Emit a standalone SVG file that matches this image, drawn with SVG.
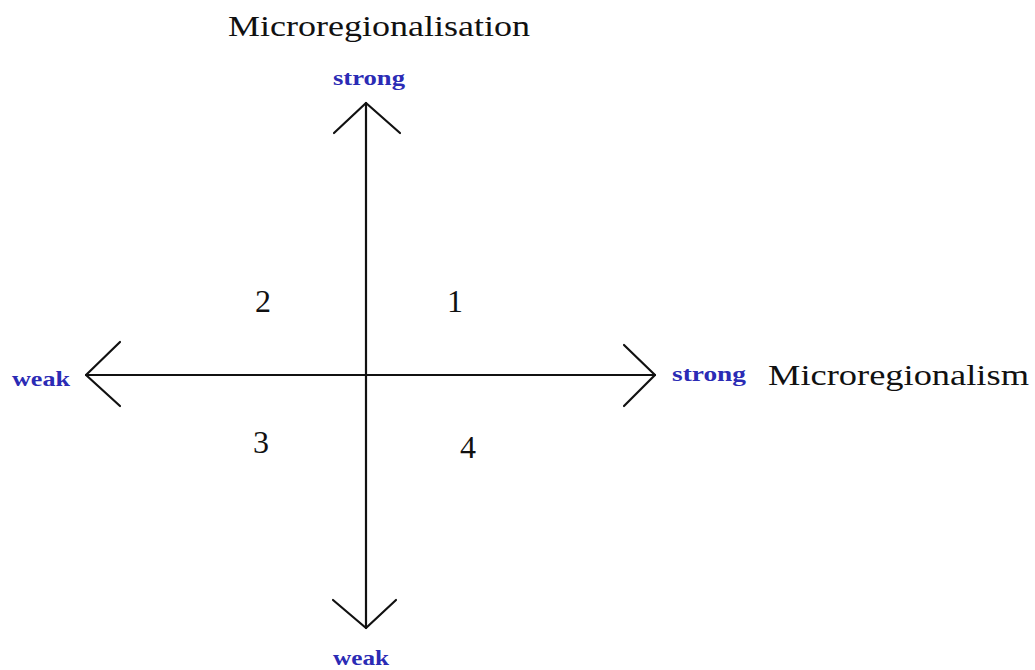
<svg xmlns="http://www.w3.org/2000/svg" width="1035" height="670" viewBox="0 0 1035 670">
<style>
.title{font-family:"Liberation Serif","DejaVu Serif",serif;font-size:30px;fill:#111}
.lab{font-family:"Liberation Serif","DejaVu Serif",serif;font-size:21px;font-weight:bold;fill:#2b2bb5}
.num{font-family:"Liberation Serif","DejaVu Serif",serif;font-size:32px;fill:#111}
.ax{stroke:#111;stroke-width:2.2;fill:none;stroke-linecap:round;stroke-linejoin:round}
</style>
<rect width="1035" height="670" fill="#fff"/>
<g id="connectors">
<path class="ax" d="M366,103 V628"/>
<path class="ax" d="M334,133 L366,103 L400,133"/>
<path class="ax" d="M333,600 L366,628 L396,600"/>
<path class="ax" d="M86,375 H655"/>
<path class="ax" d="M120,342 L86,375 L120,406"/>
<path class="ax" d="M624,345 L655,375 L624,406"/>
</g>
<g id="title-y"><text class="title" x="228" y="36" textLength="302" lengthAdjust="spacingAndGlyphs">Microregionalisation</text></g>
<g id="y-strong"><text class="lab" x="333" y="85" textLength="72" lengthAdjust="spacingAndGlyphs">strong</text></g>
<g id="y-weak"><text class="lab" x="333" y="665" textLength="56" lengthAdjust="spacingAndGlyphs">weak</text></g>
<g id="x-weak"><text class="lab" x="12" y="386" textLength="58" lengthAdjust="spacingAndGlyphs">weak</text></g>
<g id="x-strong"><text class="lab" x="672" y="381" textLength="74" lengthAdjust="spacingAndGlyphs">strong</text></g>
<g id="title-x"><text class="title" x="768" y="385" textLength="261" lengthAdjust="spacingAndGlyphs">Microregionalism</text></g>
<g id="q1"><text class="num" x="455" y="312" text-anchor="middle">1</text></g>
<g id="q2"><text class="num" x="263" y="312" text-anchor="middle">2</text></g>
<g id="q3"><text class="num" x="261" y="453" text-anchor="middle">3</text></g>
<g id="q4"><text class="num" x="468" y="458" text-anchor="middle">4</text></g>
</svg>
